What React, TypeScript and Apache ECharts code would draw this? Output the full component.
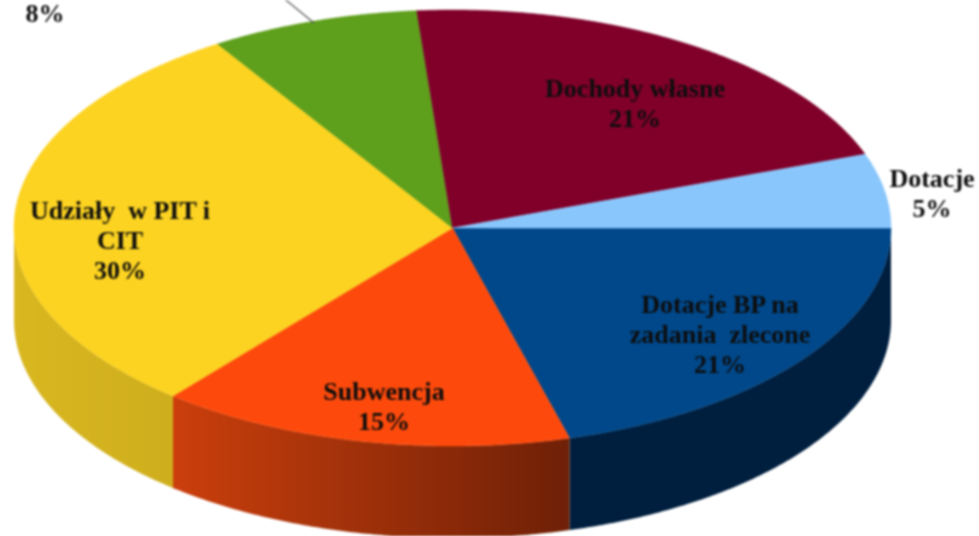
import React, { useEffect, useRef } from "react";
import * as echarts from "echarts";

const categories = ["Dotacje BP na\nzadania  zlecone", "Subwencja", "Udziały  w PIT i\nCIT", "", "Dochody własne", "Dotacje"];
const percentLabels = ["21%", "15%", "30%", "8%", "21%", "5%"];
// Slice sizes as measured on the drawn ellipse (they differ slightly from the rounded labels).
const shares = [20.7, 15.3, 30, 7.7, 20.8, 5.5];
const topColors = ["#00488A", "#FD4A0C", "#FCD321", "#5E9F1C", "#80002A", "#89C6FB"];
const wallColors = [["#001F3F", "#001F3F"], ["#CB3F0C", "#6E2007"], ["#D9B720", "#CFAE1E"], ["#000", "#000"], ["#000", "#000"], ["#000", "#000"]];
const labelCentres = [[720, 334], [384, 406], [120, 240], [45, 13], [635, 103], [932, 193]];

const CX = 452.5, CY = 228, RX = 438.5, RY = 218, DEPTH = 92;
const total = shares.reduce((a, b) => a + b, 0);
const pt = (deg: number, dy = 0) => {
  const r = (deg * Math.PI) / 180;
  return [CX + RX * Math.cos(r), CY + RY * Math.sin(r) + dy];
};
const arc = (a: number, b: number, dy = 0) => {
  const out: number[][] = [];
  const n = Math.max(2, Math.ceil((b - a) * 2));
  for (let i = 0; i <= n; i++) out.push(pt(a + ((b - a) * i) / n, dy));
  return out;
};

export default function App() {
  const ref = useRef<HTMLDivElement>(null);
  useEffect(() => {
    document.body.style.margin = "0";
    document.body.style.background = "#fff";
    const chart = echarts.init(ref.current!, undefined, { renderer: "svg" });
    chart.setOption({
      animation: false,
      backgroundColor: "#fff",
      series: [
        {
          type: "custom",
          coordinateSystem: "none",
          silent: true,
          clip: false,
          data: shares.map((v, i) => ({ value: [v], name: categories[i] })),
          renderItem: (params: any, api: any) => {
            const i = params.dataIndex;
            const before = shares.slice(0, i).reduce((a, b) => a + b, 0);
            const a0 = (before / total) * 360;
            const a1 = a0 + (api.value(0) / total) * 360;
            const children: any[] = [];
            const wEnd = Math.min(a1, 180);
            if (a0 < 180) {
              const top = arc(a0, wEnd);
              const bottom = arc(a0, wEnd, DEPTH).reverse();
              children.push({
                type: "polygon",
                shape: { points: [...top, ...bottom] },
                style: {
                  fill: new echarts.graphic.LinearGradient(0, 0, 1, 0, [
                    { offset: 0, color: wallColors[i][0] },
                    { offset: 1, color: wallColors[i][1] },
                  ]),
                },
              });
            }
            children.push({
              type: "polygon",
              shape: { points: [[CX, CY], ...arc(a0, a1)] },
              style: { fill: topColors[i], stroke: topColors[i], lineWidth: 0.5 },
            });
            const name = categories[i];
            const isLeader = name === "";
            if (isLeader) {
              children.push({
                type: "line",
                shape: { x1: 281, y1: -4, x2: 314, y2: 23 },
                style: { stroke: "#555", lineWidth: 1.2 },
              });
            }
            children.push({
              type: "text",
              x: labelCentres[i][0],
              y: labelCentres[i][1],
              style: {
                text: isLeader ? percentLabels[i] : `${name}\n${percentLabels[i]}`,
                fill: "#0d0d0d",
                font: 'bold 26px "Liberation Serif"',
                lineHeight: 30,
                align: "center",
                verticalAlign: "middle",
              },
            });
            return { type: "group", children };
          },
        },
      ],
    });
    return () => chart.dispose();
  }, []);
  return (
    <div
      ref={ref}
      style={{ position: "absolute", left: 0, top: 0, width: 979, height: 536, filter: "blur(0.8px)" }}
    />
  );
}
